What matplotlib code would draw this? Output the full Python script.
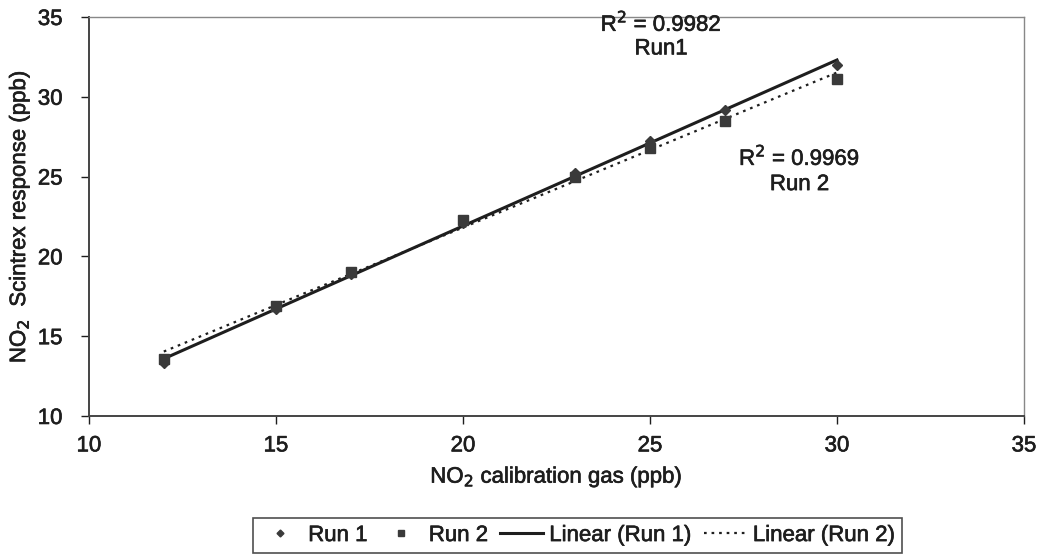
import numpy as np
import matplotlib
matplotlib.use("Agg")
import matplotlib.pyplot as plt
import matplotlib.patheffects as pe

plt.rcParams['font.family'] = ['Liberation Sans', 'DejaVu Sans']

# calibration gas concentrations (ppb)
gas = [12, 15, 17, 20, 23, 25, 27, 30]
# Scintrex readings for each run (ppb)
run1 = [13.3, 16.7, 18.9, 22.1, 25.2, 27.2, 29.2, 32.0]
run2 = [13.6, 16.9, 19.0, 22.3, 25.0, 26.8, 28.5, 31.1]
r2_run1 = "0.9982"
r2_run2 = "0.9969"

ink = "#1e1e1e"
fs = 16
# slightly heavier strokes on the lettering
heavy = [pe.withStroke(linewidth=0.45, foreground=ink)]

fig = plt.figure(figsize=(10.42, 5.55), dpi=100)
ax = fig.add_axes([0.0854, 0.2505, 0.8973, 0.7189])

x = np.array(gas, dtype=float)
# least squares trend lines for each run
k1, b1 = np.polyfit(x, run1, 1)
k2, b2 = np.polyfit(x, run2, 1)
xl = np.array([x.min(), x.max()])

ax.plot(xl, k2 * xl + b2, linestyle=(0, (1.2, 2.2)), color=ink, lw=1.6,
        label="Linear (Run 2)", zorder=2)
ax.plot(xl, k1 * xl + b1, linestyle="-", color=ink, lw=2.2,
        label="Linear (Run 1)", zorder=3)
ax.plot(x, run2, linestyle="none", marker="s", ms=7, color="#3a3a3a",
        label="Run 2", zorder=4)
ax.plot(x, run1, linestyle="none", marker="D", ms=5, color="#3a3a3a",
        label="Run 1", zorder=5)

ax.set_xlim(10, 35)
ax.set_ylim(10, 35)
ax.set_xticks([10, 15, 20, 25, 30, 35])
ax.set_yticks([10, 15, 20, 25, 30, 35])
ax.tick_params(axis="both", labelsize=fs, colors=ink, length=6, width=1,
               direction="out")
ax.tick_params(axis="y", pad=13)
ax.tick_params(axis="x", pad=8)
for side in ["left", "bottom"]:
    ax.spines[side].set_color("#444444")
    ax.spines[side].set_linewidth(1.4)
for side in ["top", "right"]:
    ax.spines[side].set_color("#888888")
    ax.spines[side].set_linewidth(1.0)

ax.set_xlabel("NO$_2$ calibration gas (ppb)", fontsize=fs, color=ink,
              labelpad=6)
ax.set_ylabel("NO$_2$  Scintrex response (ppb)", fontsize=fs, color=ink,
              labelpad=4)

ax.text(25.3, 34.6, "R$^2$ = " + r2_run1, ha="center", va="center",
        fontsize=fs, color=ink)
ax.text(25.3, 33.0, "Run1", ha="center", va="center", fontsize=fs, color=ink)
ax.text(29.0, 26.2, "R$^2$ = " + r2_run2, ha="center", va="center",
        fontsize=fs, color=ink)
ax.text(29.0, 24.5, "Run 2", ha="center", va="center", fontsize=fs, color=ink)

h, l = ax.get_legend_handles_labels()
order = [3, 2, 1, 0]
leg = fig.legend([h[i] for i in order], [l[i] for i in order],
                 loc="upper center", bbox_to_anchor=(0.554, 0.086),
                 ncol=4, frameon=True, fancybox=False, edgecolor="#222222",
                 fontsize=fs, handlelength=1.9, handletextpad=0.3,
                 columnspacing=0.55, borderpad=0.3, markerscale=0.7)
for t in leg.get_texts():
    t.set_color(ink)
leg.get_frame().set_linewidth(1.2)

# draw once so tick labels exist, then thicken every piece of text
fig.canvas.draw()
for t in fig.findobj(matplotlib.text.Text):
    if t.get_text():
        t.set_path_effects(heavy)

fig.savefig("out.png", dpi=100, facecolor="white")
